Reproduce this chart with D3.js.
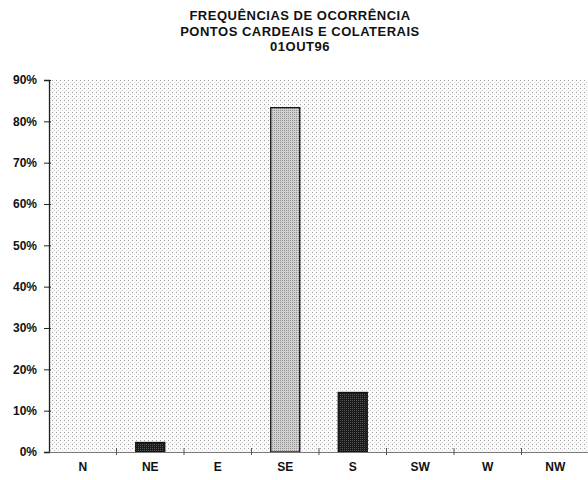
<!DOCTYPE html>
<html>
<head>
<meta charset="utf-8">
<script src="https://cdn.jsdelivr.net/npm/d3@7"></script>
<style>
  body { margin: 0; background: #fff; }
  text { font-family: "Liberation Sans", Arial, sans-serif; font-weight: bold; fill: #111; }
</style>
</head>
<body>
<svg id="chart" width="588" height="480"></svg>
<script>
// chart data
var titleLines = ["FREQUÊNCIAS DE OCORRÊNCIA", "PONTOS CARDEAIS E COLATERAIS", "01OUT96"];
var directions = ["N", "NE", "E", "SE", "S", "SW", "W", "NW"];
var frequencies = [0, 2.3, 0, 83.3, 14.4, 0, 0, 0];
var yTicks = [0, 10, 20, 30, 40, 50, 60, 70, 80, 90];

var svg = d3.select("#chart"),
    margin = {top: 80, right: 0, bottom: 28, left: 49},
    W = +svg.attr("width"),
    H = +svg.attr("height");

var x = d3.scaleBand()
    .domain(directions)
    .range([margin.left, margin.left + 540])
    .paddingInner(0.57)
    .paddingOuter(0.285);

var xBand = d3.scaleBand()
    .domain(directions)
    .range([margin.left, margin.left + 540]);

var y = d3.scaleLinear()
    .domain([0, 90])
    .range([H - margin.bottom, margin.top]);

// stipple patterns
var defs = svg.append("defs");

var bg = defs.append("pattern")
    .attr("id", "dots")
    .attr("width", 4).attr("height", 4)
    .attr("patternUnits", "userSpaceOnUse");
bg.append("rect").attr("width", 4).attr("height", 4).attr("fill", "#fbfbfb");
bg.append("rect").attr("x", 0).attr("y", 0).attr("width", 1).attr("height", 1).attr("fill", "#a0a0a0");
bg.append("rect").attr("x", 2).attr("y", 2).attr("width", 1).attr("height", 1).attr("fill", "#cfcfcf");

var light = defs.append("pattern")
    .attr("id", "lightFill")
    .attr("width", 2).attr("height", 2)
    .attr("patternUnits", "userSpaceOnUse");
light.append("rect").attr("width", 2).attr("height", 2).attr("fill", "#d0d0d0");
light.append("rect").attr("width", 1).attr("height", 1).attr("fill", "#949494");

var dark = defs.append("pattern")
    .attr("id", "darkFill")
    .attr("width", 2).attr("height", 2)
    .attr("patternUnits", "userSpaceOnUse");
dark.append("rect").attr("width", 2).attr("height", 2).attr("fill", "#1a1a1a");
dark.append("rect").attr("width", 1).attr("height", 1).attr("fill", "#555");

// plot background
svg.append("rect")
    .attr("x", margin.left)
    .attr("y", y(90))
    .attr("width", 540)
    .attr("height", y(0) - y(90))
    .attr("fill", "url(#dots)");

// title
svg.append("g").selectAll("text")
    .data(titleLines)
    .enter().append("text")
    .attr("x", 300)
    .attr("y", function (d, i) { return 20 + i * 15.5; })
    .attr("text-anchor", "middle")
    .style("font-size", "13px")
    .style("letter-spacing", "0.5px")
    .text(function (d) { return d; });

// bars
svg.append("g").selectAll("rect")
    .data(frequencies)
    .enter().append("rect")
    .filter(function (d) { return d > 0; })
    .attr("x", function (d) { return x(directions[frequencies.indexOf(d)]); })
    .attr("y", function (d) { return y(d); })
    .attr("width", x.bandwidth())
    .attr("height", function (d) { return y(0) - y(d); })
    .attr("fill", function (d) { return d > 50 ? "url(#lightFill)" : "url(#darkFill)"; })
    .attr("stroke", "#111")
    .attr("stroke-width", 1.3);

// y axis
var yAxis = d3.axisLeft(y)
    .tickValues(yTicks)
    .tickFormat(function (d) { return d + "%"; })
    .tickSize(5)
    .tickPadding(7);

var gy = svg.append("g")
    .attr("transform", "translate(" + margin.left + ",0)")
    .call(yAxis);
gy.select(".domain").attr("stroke", "#222").attr("stroke-width", 1.3);
gy.selectAll(".tick line").attr("stroke", "#222").attr("x2", -5).attr("x1", 2);
gy.selectAll(".tick text").style("font-size", "12px").attr("fill", "#111");

// x axis
var xAxis = d3.axisBottom(xBand)
    .tickSize(0)
    .tickPadding(10);

var gx = svg.append("g")
    .attr("transform", "translate(0," + y(0) + ")")
    .call(xAxis);
gx.select(".domain").attr("stroke", "#777").attr("stroke-width", 1.2);
gx.selectAll(".tick text").style("font-size", "12px").attr("fill", "#111");

// category separators on x axis
gx.append("g").selectAll("line")
    .data(directions.slice(1))
    .enter().append("line")
    .attr("x1", function (d) { return xBand(d); })
    .attr("x2", function (d) { return xBand(d); })
    .attr("y1", -4)
    .attr("y2", 3)
    .attr("stroke", "#555");
</script>
</body>
</html>
